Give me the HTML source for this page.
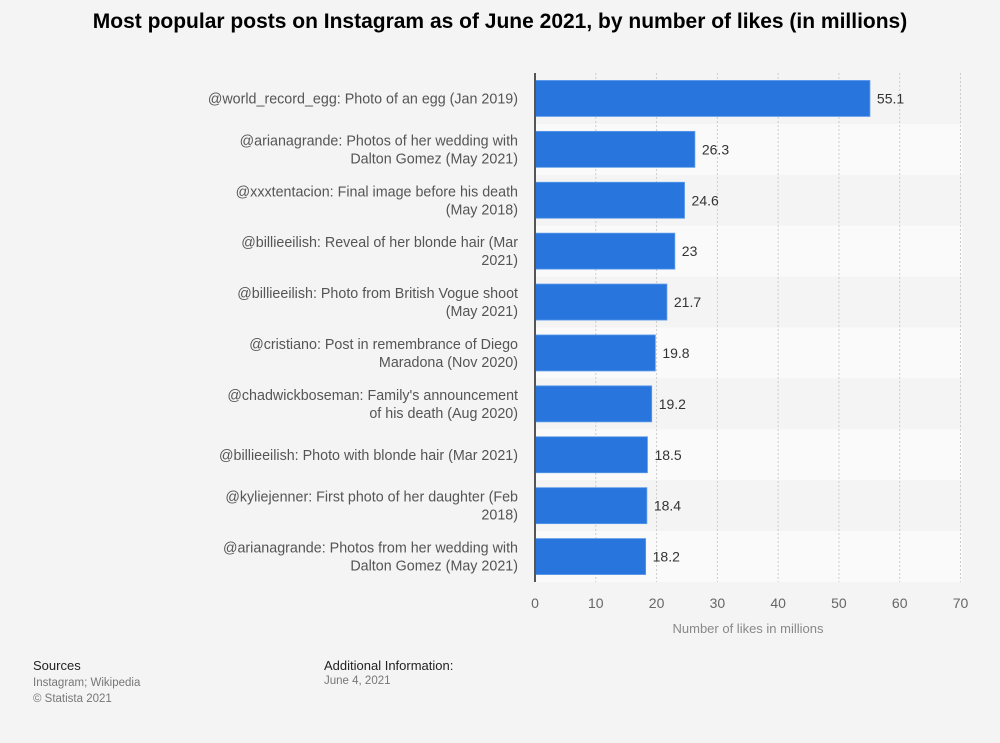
<!DOCTYPE html>
<html><head><meta charset="utf-8"><style>
body{margin:0;background:#f4f4f4;font-family:"Liberation Sans",sans-serif;}
#wrap{position:relative;width:1000px;height:743px;overflow:hidden;background:#f4f4f4;}
.t{position:absolute;}
</style></head><body>
<div id="wrap">
<div class="t" style="left:0;width:1000px;top:10px;text-align:center;font-size:21px;font-weight:bold;color:#000;">Most popular posts on Instagram as of June 2021, by number of likes (in millions)</div>
<svg id="chart" width="1000" height="743" style="position:absolute;left:0;top:0"></svg>
<div class="t" style="left:33px;top:658px;font-size:13px;color:#222;">Sources</div>
<div class="t" style="left:33px;top:675px;font-size:11.5px;color:#777;line-height:16px;">Instagram; Wikipedia<br>© Statista 2021</div>
<div class="t" style="left:324px;top:658px;font-size:13px;color:#222;">Additional Information:</div>
<div class="t" style="left:324px;top:675px;font-size:11.5px;color:#777;">June 4, 2021</div>
</div>
<script>
const categories=[
["@world_record_egg: Photo of an egg (Jan 2019)"],
["@arianagrande: Photos of her wedding with","Dalton Gomez (May 2021)"],
["@xxxtentacion: Final image before his death","(May 2018)"],
["@billieeilish: Reveal of her blonde hair (Mar","2021)"],
["@billieeilish: Photo from British Vogue shoot","(May 2021)"],
["@cristiano: Post in remembrance of Diego","Maradona (Nov 2020)"],
["@chadwickboseman: Family's announcement","of his death (Aug 2020)"],
["@billieeilish: Photo with blonde hair (Mar 2021)"],
["@kyliejenner: First photo of her daughter (Feb","2018)"],
["@arianagrande: Photos from her wedding with","Dalton Gomez (May 2021)"]];
const values=[55.1,26.3,24.6,23,21.7,19.8,19.2,18.5,18.4,18.2];
const valueLabels=["55.1","26.3","24.6","23","21.7","19.8","19.2","18.5","18.4","18.2"];
const ticks=[0,10,20,30,40,50,60,70];
const svg=document.getElementById('chart');const NS='http://www.w3.org/2000/svg';
const x0=535,x1=960.5,yTop=73,yBot=582,max=70;
const band=(yBot-yTop)/values.length;
const xs=v=>x0+(x1-x0)*v/max;
const yb=i=>yTop+i*band;
function mk(t,a,p){const e=document.createElementNS(NS,t);for(const k in a)e.setAttribute(k,a[k]);(p||svg).appendChild(e);return e;}
values.forEach((v,i)=>{if(i%2==1){const r=mk('rect',{x:x0,y:yb(i),width:x1-x0+2,height:band,fill:'#fafafa'});

}});
ticks.forEach(t=>{if(t>0){const l=mk('line',{x1:xs(t),x2:xs(t),y1:yTop,y2:yBot,stroke:'#ccc','stroke-dasharray':'2,2'});

}
const tx=mk('text',{x:xs(t),y:608,'text-anchor':'middle','font-size':14,fill:'#666','font-family':'Liberation Sans'});tx.textContent=t;

});
values.forEach((v,i)=>{const c=yb(i)+band/2;
const b=mk('rect',{x:x0,y:c-18,width:xs(v)-x0,height:36,fill:'#2876dd',stroke:'#5d9be8','stroke-width':0.8});


const vl=mk('text',{x:xs(v)+7,y:c+5,'font-size':14,fill:'#333','font-family':'Liberation Sans'});vl.textContent=valueLabels[i];


const lines=categories[i];
lines.forEach((s,j)=>{const ty=c+5+(j-(lines.length-1)/2)*18;
const tl=mk('text',{x:518,y:ty,'text-anchor':'end','font-size':14.3,fill:'#555','font-family':'Liberation Sans'});tl.textContent=s;

});});
const ax=mk('line',{x1:x0,x2:x0,y1:yTop,y2:yBot,stroke:'#555','stroke-width':2});


const at=mk('text',{x:748,y:633,'text-anchor':'middle','font-size':13,fill:'#888','font-family':'Liberation Sans'});at.textContent='Number of likes in millions';


</script>
</body></html>
